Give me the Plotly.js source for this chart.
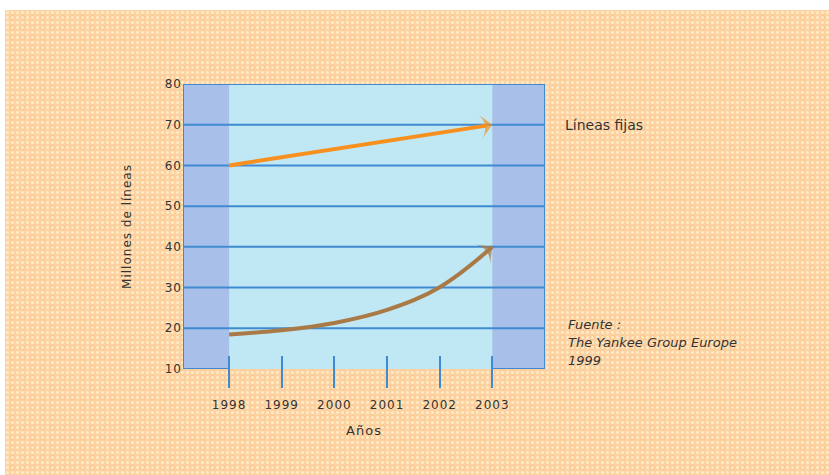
<!DOCTYPE html>
<html>
<head>
<meta charset="utf-8">
<script src="https://cdn.plot.ly/plotly-3.0.1.min.js"></script>
<style>
  html, body { margin: 0; padding: 0; background: #ffffff; }
  #wrap { position: relative; width: 829px; height: 475px; overflow: hidden; }
  #paper {
    position: absolute; left: 5px; top: 10px; right: 0; bottom: 0;
    background:
      radial-gradient(circle, rgba(255,238,200,0.85) 1.2px, transparent 1.8px) 0 0 / 5px 5px,
      radial-gradient(circle, rgba(248,185,125,0.55) 2px, transparent 3px) 2.5px 2.5px / 10px 10px,
      #fdd2a2;
  }
  #chart { position: absolute; left: 0; top: 0; width: 829px; height: 475px; }
  #chart .xtick text, #chart .ytick text, #chart .g-xtitle text, #chart .g-ytitle text { letter-spacing: 1px; }
</style>
</head>
<body>
<div id="wrap">
  <div id="paper"></div>
  <div id="chart"></div>
</div>
<script>
// Años del pronóstico
const years = [1998, 1999, 2000, 2001, 2002, 2003];
// Millones de líneas fijas
const fixedLines = [60, 62, 64, 66, 68, 70];
// Millones de líneas móviles (curva creciente)
const mobileLines = [18.5, 19.5, 21.3, 24.5, 30.1, 40];
const yTicks = [10, 20, 30, 40, 50, 60, 70, 80];
const sourceLines = ['Fuente :', 'The Yankee Group Europe', '1999'];

const textColor = '#333333';
const gridBlue = '#3f8ad0';
const family = 'DejaVu Sans, Arial, sans-serif';

// only the last point of each series carries the arrowhead
function arrowSizes(s) { return years.map((_, i) => (i === years.length - 1 ? s : 0)); }

const traces = [
  {
    x: years, y: fixedLines, type: 'scatter', mode: 'lines+markers',
    line: { color: '#f7901e', width: 4, backoff: 6 },
    marker: { symbol: 'arrow-wide', angleref: 'previous', size: arrowSizes(18),
              color: '#f7901e', line: { width: 0 } },
    hoverinfo: 'skip', cliponaxis: false
  },
  {
    x: years, y: mobileLines, type: 'scatter', mode: 'lines+markers',
    line: { color: '#a97a45', width: 4, shape: 'spline', smoothing: 1.1, backoff: 6 },
    marker: { symbol: 'arrow-wide', angleref: 'previous', size: arrowSizes(18),
              color: '#a97a45', line: { width: 0 } },
    hoverinfo: 'skip', cliponaxis: false
  }
];

const xMin = 1997.125, xMax = 2004.0;
const yMin = yTicks[0], yMax = yTicks[yTicks.length - 1];
const first = years[0], last = years[years.length - 1];
const bandFill = '#a8c0e9';
const edge = { color: gridBlue, width: 2 };

const shapes = [
  // shaded side bands
  { type: 'rect', layer: 'below', xref: 'x', yref: 'y', x0: xMin, x1: first, y0: yMin, y1: yMax,
    fillcolor: bandFill, line: { width: 0 } },
  { type: 'rect', layer: 'below', xref: 'x', yref: 'y', x0: last, x1: xMax, y0: yMin, y1: yMax,
    fillcolor: bandFill, line: { width: 0 } }
];
// horizontal grid lines across the whole frame (except the base line)
yTicks.slice(1).forEach(v => shapes.push(
  { type: 'line', layer: 'below', xref: 'x', yref: 'y', x0: xMin, x1: xMax, y0: v, y1: v, line: edge }));
// base line only under the side bands, plus outer side edges
shapes.push(
  { type: 'line', layer: 'below', xref: 'x', yref: 'y', x0: xMin, x1: first, y0: yMin, y1: yMin, line: edge },
  { type: 'line', layer: 'below', xref: 'x', yref: 'y', x0: last, x1: xMax, y0: yMin, y1: yMin, line: edge },
  { type: 'line', layer: 'below', xref: 'x', yref: 'y', x0: xMin, x1: xMin, y0: yMin, y1: yMax, line: edge },
  { type: 'line', layer: 'below', xref: 'x', yref: 'y', x0: xMax, x1: xMax, y0: yMin, y1: yMax, line: edge }
);

const sourceY = [0.155, 0.092, 0.029];
const annotations = [
  { xref: 'paper', yref: 'y', x: 1.05, y: fixedLines[fixedLines.length - 1], xanchor: 'left', yanchor: 'middle',
    text: 'Líneas fijas', showarrow: false, font: { family: family, size: 14, color: textColor } }
];
sourceLines.forEach((t, i) => annotations.push({
  xref: 'paper', yref: 'paper', x: 1.057, y: sourceY[i], xanchor: 'left', yanchor: 'middle', align: 'left',
  text: '<i>' + t + '</i>', showarrow: false, font: { family: family, size: 13, color: textColor }
}));

const layout = {
  width: 829, height: 475,
  margin: { l: 183, r: 284, t: 84, b: 106 },
  paper_bgcolor: 'rgba(0,0,0,0)',
  plot_bgcolor: '#c0e7f4',
  showlegend: false,
  font: { family: family, size: 12, color: textColor },
  xaxis: {
    range: [xMin, xMax], tickvals: years, ticktext: years.map(String),
    anchor: 'free', position: 0.049,
    showgrid: false, zeroline: false, showline: false,
    ticks: 'outside', ticklen: 32, tickwidth: 2, tickcolor: gridBlue,
    ticklabelstandoff: 7,
    tickfont: { family: family, size: 12, color: textColor },
    title: { text: 'Años', font: { family: family, size: 13, color: textColor }, standoff: 14 },
    fixedrange: true
  },
  yaxis: {
    range: [yMin, yMax], tickvals: yTicks, ticktext: yTicks.map(String),
    showgrid: false, zeroline: false, showline: false, ticks: '',
    tickfont: { family: family, size: 12, color: textColor },
    title: { text: 'Millones de líneas', font: { family: family, size: 12, color: textColor }, standoff: 32 },
    fixedrange: true
  },
  shapes: shapes,
  annotations: annotations
};

Plotly.newPlot('chart', traces, layout, { staticPlot: true, displayModeBar: false });
</script>
</body>
</html>
